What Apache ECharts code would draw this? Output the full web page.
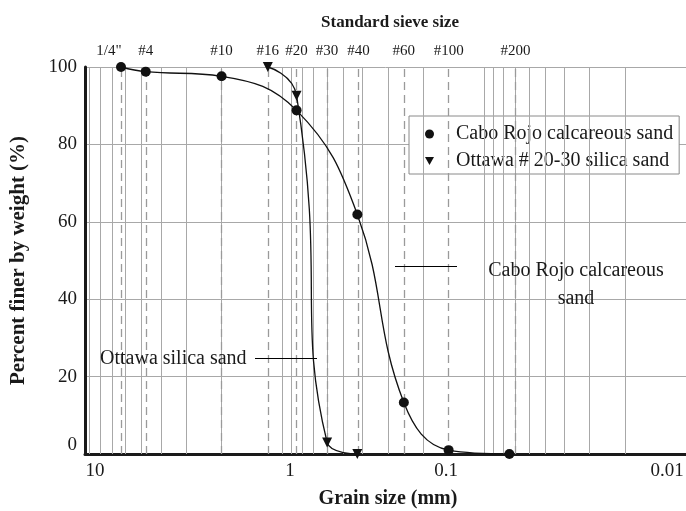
<!DOCTYPE html>
<html>
<head>
<meta charset="utf-8">
<script src="https://cdn.jsdelivr.net/npm/echarts@6/dist/echarts.min.js"></script>
<style>
  html, body { margin: 0; padding: 0; background: #fff; }
  #chart { width: 686px; height: 511px; }
</style>
</head>
<body>
<div id="chart"></div>
<script>
// Standard sieve openings (mm) and their names, shown along the top edge
const sieveNames = ['1/4"', '#4', '#10', '#16', '#20', '#30', '#40', '#60', '#100', '#200'];
const sieveSizes = [6.3, 4.75, 2.0, 1.18, 0.85, 0.6, 0.425, 0.25, 0.15, 0.075];

// Cabo Rojo calcareous sand: grain size (mm) and percent finer by weight
const caboSizes = [6.3, 4.75, 2.0, 0.85, 0.425, 0.25, 0.15, 0.075];
const caboFiner = [100, 98.8, 97.6, 88.8, 61.9, 13.3, 1.0, 0];

// Ottawa # 20-30 silica sand
const ottawaSizes = [1.18, 0.85, 0.6, 0.425];
const ottawaFiner = [100, 92.6, 3.0, 0];

// Grain-size tick labels printed under the axis
const sizeTickLabels = ['10', '1', '0.1', '0.01'];

const SERIF = '"Liberation Serif", "DejaVu Serif", serif';
const INK = '#1a1a1a';
const GRID = '#a8a8a8';

// Log-cycle grid values (1..9 per decade) within the plotted range
const X_MIN = 0.01, X_MAX = 9.5;
const cycleLines = [];
[0.01, 0.1, 1].forEach(function (d) {
  for (let k = 1; k <= 9; k++) {
    const v = +(k * d).toPrecision(3);
    if (v >= X_MIN && v <= X_MAX) cycleLines.push(v);
  }
});

const caboData = caboSizes.map((s, i) => [s, caboFiner[i]]);
const ottawaData = ottawaSizes.map((s, i) => [s, ottawaFiner[i]]);

const chart = echarts.init(document.getElementById('chart'), null, { renderer: 'canvas' });

// pixel layout of the text under the axis
const sizeLabelX = [95, 290, 446, 667];

chart.setOption({
  animation: false,
  backgroundColor: '#fff',
  title: [
    {
      text: 'Standard sieve size',
      left: 385, top: 9, textAlign: 'center',
      textStyle: { fontFamily: SERIF, fontWeight: 'bold', fontSize: 17, color: INK }
    },
    {
      text: 'Grain size (mm)',
      left: 383, top: 484, textAlign: 'center',
      textStyle: { fontFamily: SERIF, fontWeight: 'bold', fontSize: 20, color: INK }
    }
  ],
  grid: { left: 85, right: -18, top: 67, bottom: 57, containLabel: false },
  legend: {
    orient: 'vertical',
    left: 409, top: 116,
    backgroundColor: '#fff',
    borderColor: '#8a8a8a', borderWidth: 1, borderRadius: 0,
    padding: [7, 6, 2, 16],
    itemGap: 5, itemWidth: 9, itemHeight: 9,
    textStyle: { fontFamily: SERIF, fontSize: 20, color: INK, lineHeight: 22, padding: [0, 0, 0, 17] },
    data: [
      { name: 'Cabo Rojo calcareous sand', icon: 'circle' },
      { name: 'Ottawa # 20-30 silica sand', icon: 'path://M0,0L10,0L5,9Z' }
    ]
  },
  xAxis: {
    type: 'log', logBase: 10,
    min: X_MIN, max: X_MAX, inverse: true,
    axisLine: { show: true, onZero: false, lineStyle: { color: INK, width: 3 } },
    axisTick: { show: false },
    axisLabel: { show: false },
    splitLine: { show: false }
  },
  yAxis: {
    type: 'value', min: 0, max: 100, interval: 20,
    name: 'Percent finer by weight (%)',
    nameLocation: 'middle', nameRotate: 90, nameGap: 56,
    nameTextStyle: { fontFamily: SERIF, fontWeight: 'bold', fontSize: 21, color: INK },
    axisLine: { show: true, lineStyle: { color: INK, width: 3 } },
    axisTick: { show: false },
    axisLabel: {
      margin: 8,
      formatter: function (v) { return v === 0 ? '{z|0}' : '{n|' + v + '}'; },
      rich: {
        n: { fontFamily: SERIF, fontSize: 19, color: INK },
        z: { fontFamily: SERIF, fontSize: 19, color: INK, padding: [0, 0, 18, 0] }
      }
    },
    splitLine: { show: true, lineStyle: { color: GRID, width: 1 } }
  },
  series: [
    {
      // log-cycle grid and sieve reference lines
      type: 'line', data: [], z: 1, silent: true,
      markLine: {
        silent: true, symbol: 'none', animation: false,
        data: cycleLines.map(v => ({
          xAxis: v,
          lineStyle: { color: GRID, width: 1, type: 'solid' },
          label: { show: false }
        })).concat(sieveSizes.map((v, i) => ({
          xAxis: v,
          lineStyle: { color: '#9a9a9a', width: 1.3, type: [8, 5] },
          label: {
            show: true, position: 'end', distance: 8,
            formatter: sieveNames[i],
            offset: i === 0 ? [-12, 0] : [0, 0],
            fontFamily: SERIF, fontSize: 15, color: INK
          }
        })))
      }
    },
    {
      name: 'Cabo Rojo calcareous sand',
      type: 'line', data: caboData, z: 5,
      smooth: 0.42,
      symbol: 'circle', symbolSize: 10,
      itemStyle: { color: '#111' },
      lineStyle: { color: '#111', width: 1.3 }
    },
    {
      name: 'Ottawa # 20-30 silica sand',
      type: 'line', data: ottawaData, z: 5,
      smooth: 0.55,
      symbol: 'triangle', symbolRotate: 180, symbolSize: 10,
      itemStyle: { color: '#111' },
      lineStyle: { color: '#111', width: 1.3 }
    }
  ],
  graphic: sizeTickLabels.map((t, i) => ({
    type: 'text', x: sizeLabelX[i], y: 471, silent: true,
    style: { text: t, fontFamily: SERIF, fontSize: 19, fill: INK, align: 'center', verticalAlign: 'middle' }
  })).concat([
    // annotation for the Ottawa curve
    { type: 'text', x: 100, y: 359, silent: true, z: 10,
      style: { text: 'Ottawa silica sand', fontFamily: SERIF, fontSize: 20, fill: INK, align: 'left', verticalAlign: 'middle' } },
    { type: 'line', silent: true, z: 10, shape: { x1: 255, y1: 358.5, x2: 317, y2: 358.5 },
      style: { stroke: '#000', lineWidth: 1 } },
    // annotation for the Cabo Rojo curve
    { type: 'text', x: 576, y: 285, silent: true, z: 10,
      style: { text: 'Cabo Rojo calcareous\nsand', fontFamily: SERIF, fontSize: 20, lineHeight: 28, fill: INK, align: 'center', verticalAlign: 'middle' } },
    { type: 'line', silent: true, z: 10, shape: { x1: 395, y1: 266.5, x2: 457, y2: 266.5 },
      style: { stroke: '#000', lineWidth: 1 } }
  ])
});
</script>
</body>
</html>
